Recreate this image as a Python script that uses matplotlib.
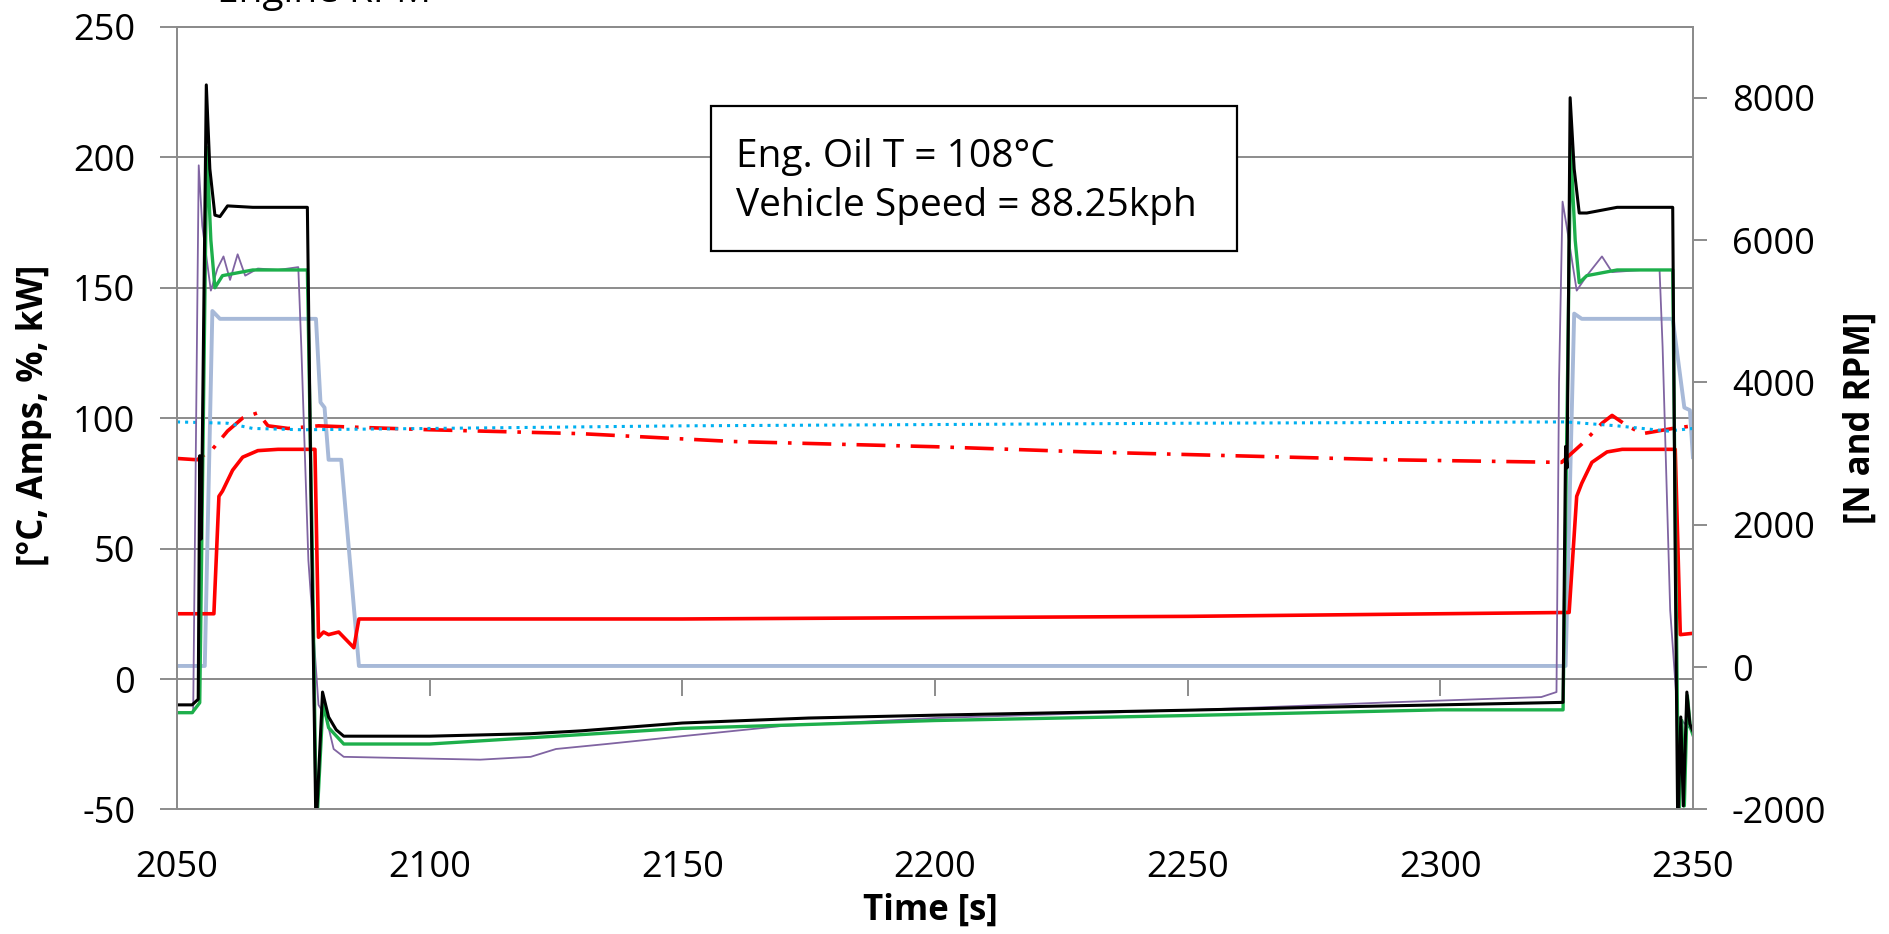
import matplotlib
matplotlib.use("Agg")
import matplotlib.pyplot as plt
from matplotlib.patches import Rectangle

plt.rcParams["font.family"] = ["Open Sans", "DejaVu Sans"]
plt.rcParams["axes.unicode_minus"] = False

# ---- data (time in s) ----
# speeds on the right axis [RPM]
t_black = [2050, 2053, 2054.2, 2054.5, 2054.8, 2055.8, 2056.5, 2057.5, 2058.5, 2060, 2065,
           2070, 2075.8, 2076.5, 2077.5, 2078.8, 2080, 2081.5, 2083, 2100, 2120, 2130, 2150,
           2175, 2200, 2225, 2250, 2275, 2300, 2324.3, 2324.8, 2325.1, 2325.7, 2326.5, 2327.5,
           2329, 2335, 2340, 2346, 2346.5, 2347, 2347.6, 2348.1, 2348.8, 2349.4, 2350]
rpm_black = [-530, -530, -450, 2970, 1800, 8180, 7000, 6350, 6330, 6480, 6460,
             6460, 6460, 2500, -2300, -350, -700, -880, -970, -970, -935, -895, -785,
             -715, -675, -640, -605, -565, -530, -495, 3100, 2800, 8000, 7000, 6380,
             6380, 6460, 6460, 6460, 1500, -2300, -700, -1950, -350, -800, -900]

t_green = [2050, 2053, 2054.5, 2055.9, 2056.7, 2057.5, 2059, 2065, 2070, 2075.8, 2076.8,
           2077.6, 2078.9, 2080, 2083, 2100, 2150, 2200, 2250, 2300, 2324.3, 2325.8, 2326.7,
           2327.5, 2329, 2335, 2346, 2346.6, 2347.2, 2347.8, 2348.3, 2348.9, 2349.5, 2350]
rpm_green = [-640, -640, -500, 7300, 6000, 5330, 5500, 5580, 5580, 5580, 1500,
             -2300, -500, -850, -1080, -1080, -860, -750, -680, -600, -600, 7300, 6000,
             5400, 5500, 5580, 5580, 1500, -2300, -750, -1950, -400, -850, -950]

t_purple = [2050, 2053.2, 2054.3, 2055, 2056.7, 2058, 2059.2, 2060.5, 2062, 2063.5, 2066,
            2070, 2074, 2074.6, 2076, 2078, 2079.5, 2081, 2083, 2110, 2120, 2125, 2135,
            2150, 2170, 2200, 2250, 2290, 2320, 2323, 2323.5, 2324.2, 2325, 2327, 2329,
            2332, 2334, 2340, 2343.4, 2344, 2345.5, 2347, 2350]
rpm_purple = [-640, -640, 7050, 6200, 5290, 5600, 5770, 5440, 5800, 5500, 5600,
              5580, 5620, 4500, 1500, -530, -700, -1150, -1260, -1300, -1260, -1150, -1080,
              -970, -825, -715, -605, -495, -420, -350, 4000, 6540, 6200, 5290, 5500,
              5770, 5550, 5580, 5580, 4500, 800, -700, -900]

# left axis [°C, Amps, %, kW]
t_blue = [2050, 2055.5, 2057, 2058.5, 2070, 2077.5, 2078.4, 2079.2, 2080, 2082.5, 2086,
          2200, 2324.8, 2326.5, 2328, 2340, 2346, 2348.3, 2349.4, 2350]
v_blue = [5, 5, 141, 138, 138, 138, 106, 104, 84, 84, 5,
          5, 5, 140, 138, 138, 138, 104, 103, 85]

t_red = [2050, 2057.3, 2058.3, 2059, 2061, 2063, 2066, 2070, 2077.3, 2078, 2079, 2080,
         2082, 2083.5, 2085, 2086, 2150, 2200, 2250, 2300, 2325.5, 2327, 2328, 2330,
         2333, 2336, 2346.5, 2347.5, 2350]
v_red = [25, 25, 70, 72, 80, 85, 87.5, 88, 88, 16, 18, 17,
         18, 15, 12, 23, 23, 23.5, 24, 25, 25.5, 70, 75, 83,
         87, 88, 88, 17, 17.5]

t_reddash = [2050, 2054, 2057, 2060, 2063, 2066, 2068, 2072, 2078, 2085, 2100, 2130,
             2160, 2200, 2230, 2260, 2290, 2324, 2328, 2332, 2334, 2337, 2340, 2343,
             2346, 2350]
v_reddash = [84.5, 84, 88, 95, 100, 102, 97, 96, 97, 96.5, 95.5, 94,
             91, 89, 87, 85.5, 84, 83, 90, 98, 101, 97, 94, 95,
             96, 97]

t_cyan = [2050, 2060, 2065, 2075, 2100, 2150, 2200, 2250, 2325, 2335, 2345, 2350]
v_cyan = [98.5, 98, 96, 95.5, 96, 97, 97.5, 98, 98.5, 97, 95, 96]

xticks = [2050, 2100, 2150, 2200, 2250, 2300, 2350]
yticks_left = [-50, 0, 50, 100, 150, 200, 250]
yticks_right = [-2000, 0, 2000, 4000, 6000, 8000]

grid_col = "#8C8C8C"

fig = plt.figure(figsize=(18.89, 9.34), dpi=100)
ax = fig.add_axes([0.0937, 0.1333, 0.8025, 0.8383])
ax2 = ax.twinx()

ax.plot(t_blue, v_blue, color="#A7B9D8", lw=2.8, zorder=3)
ax.plot(t_red, v_red, color="#FF0000", lw=2.6, zorder=4)
ax.plot(t_reddash, v_reddash, color="#FF0000", lw=2.6, ls=(0, (8, 3, 1, 3)), zorder=4)
ax.plot(t_cyan, v_cyan, color="#00B0F0", lw=2.2, ls=":", zorder=4)

ax2.plot(t_purple, rpm_purple, color="#8064A2", lw=1.3)
ax2.plot(t_green, rpm_green, color="#1DAF4B", lw=2.4)
ax2.plot(t_black, rpm_black, color="black", lw=2.2)

ax.set_xlim(2050, 2350)
ax.set_ylim(-50, 250)
ax2.set_ylim(-2000, 9000)
ax.set_xticks(xticks)
ax.set_yticks(yticks_left)
ax2.set_yticks(yticks_right)

ax.grid(axis="y", color=grid_col, lw=1.4)
ax.set_axisbelow(True)
for sp in ax.spines.values():
    sp.set_color(grid_col)
    sp.set_linewidth(1.4)
for sp in ax2.spines.values():
    sp.set_color(grid_col)
    sp.set_linewidth(1.4)

ax.tick_params(axis="y", direction="out", length=12, width=1.4, color=grid_col,
               labelsize=26, pad=18)
ax.tick_params(axis="x", length=0, labelsize=26, pad=29)
ax2.tick_params(axis="y", direction="out", length=10, width=1.4, color=grid_col,
                labelsize=26, pad=18)

# horizontal axis crosses at 0, tick marks hang below it
sec = ax.secondary_xaxis(50 / 300)
sec.set_xticks(xticks)
sec.tick_params(direction="out", length=12, width=1.4, color=grid_col, labelbottom=False)
sec.spines["bottom"].set_color(grid_col)
sec.spines["bottom"].set_linewidth(1.4)

ax.set_xlabel("Time [s]", fontsize=25, fontweight="bold")
ax.xaxis.set_label_coords(0.497, -0.106)
ax.set_ylabel("[°C, Amps, %, kW]", fontsize=25, fontweight="bold")
ax.yaxis.set_label_coords(-0.0825, 0.503)
ax2.set_ylabel("[N and RPM]", fontsize=25, fontweight="bold")
ax2.yaxis.set_label_coords(1.099, 0.5)

# annotation box
ax.add_patch(Rectangle((0.352, 0.7133), 0.347, 0.1852, transform=ax.transAxes,
                       fill=True, facecolor="white", edgecolor="black", lw=1.6, zorder=6))
ax.text(0.369, 0.833, "Eng. Oil T = 108°C", transform=ax.transAxes, fontsize=28,
        va="center", ha="left", zorder=7)
ax.text(0.369, 0.771, "Vehicle Speed = 88.25kph", transform=ax.transAxes, fontsize=28,
        va="center", ha="left", zorder=7)

# title cut off at the top edge
fig.text(0.115, 0.998, "Engine RPM", fontsize=28, va="baseline", ha="left")

fig.savefig("out.png", dpi=100)
